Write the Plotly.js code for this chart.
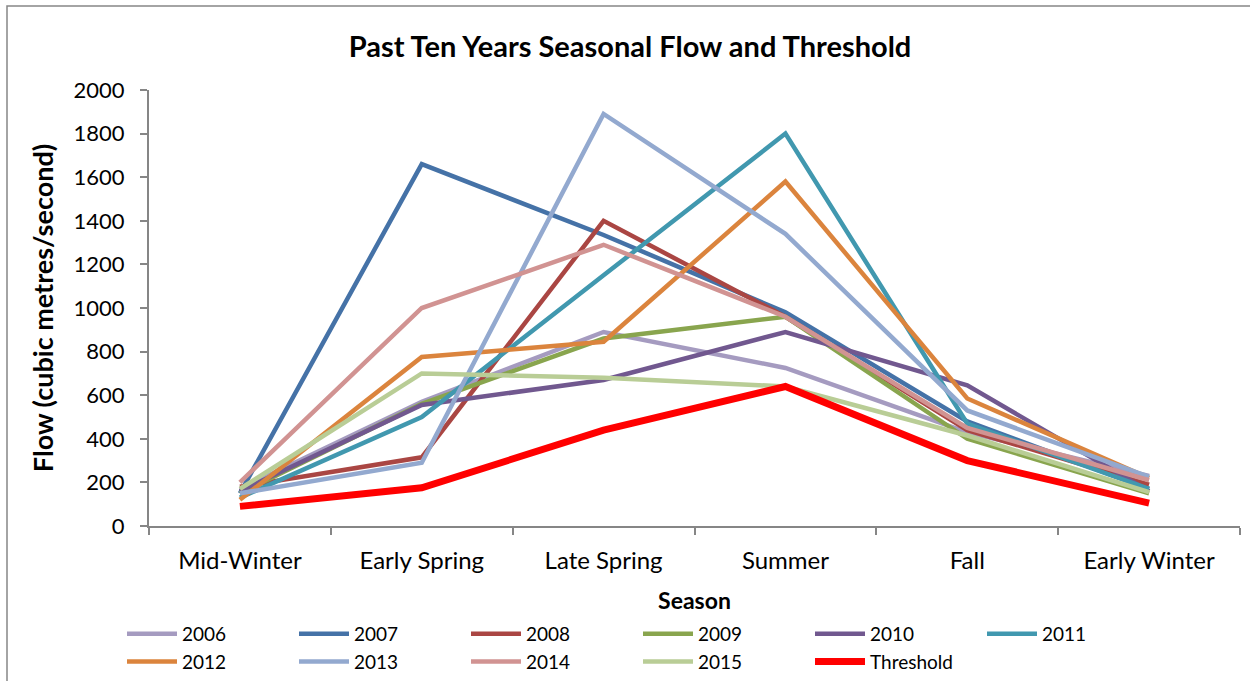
<!DOCTYPE html>
<html>
<head>
<meta charset="utf-8">
<script src="https://cdn.plot.ly/plotly-3.0.1.min.js"></script>
<style>
  html, body { margin: 0; padding: 0; background: #ffffff; }
  #chart { width: 1250px; height: 681px; }
</style>
</head>
<body>
<div id="chart"></div>
<script>
// Seasonal flow (cubic metres/second) for each year, plus the threshold line
const seasons = ["Mid-Winter", "Early Spring", "Late Spring", "Summer", "Fall", "Early Winter"];

const flow2006 = [170, 570, 890, 725, 430, 230];
const flow2007 = [150, 1660, 1335, 980, 480, 170];
const flow2008 = [180, 315, 1400, 960, 440, 190];
const flow2009 = [150, 560, 860, 960, 400, 150];
const flow2010 = [160, 555, 670, 890, 645, 160];
const flow2011 = [130, 500, 1150, 1800, 470, 170];
const flow2012 = [120, 775, 845, 1580, 585, 220];
const flow2013 = [150, 290, 1890, 1340, 530, 225];
const flow2014 = [200, 1000, 1290, 960, 450, 210];
const flow2015 = [170, 700, 680, 640, 415, 155];
const threshold = [90, 175, 440, 640, 300, 105];

const seriesNames = ["2006", "2007", "2008", "2009", "2010", "2011", "2012", "2013", "2014", "2015", "Threshold"];
const seriesValues = [flow2006, flow2007, flow2008, flow2009, flow2010, flow2011,
                      flow2012, flow2013, flow2014, flow2015, threshold];
const seriesColors = ["#A59BC0", "#4572A7", "#AA4643", "#89A54E", "#71588F", "#4198AF",
                      "#DB843D", "#93A9CF", "#D19392", "#B9CD96", "#FF0000"];

const FONT = "Lato, 'Open Sans', 'DejaVu Sans', sans-serif";

const traces = seriesNames.map((name, i) => ({
  type: "scatter",
  mode: "lines",
  name: name,
  x: seasons,
  y: seriesValues[i],
  line: { color: seriesColors[i], width: name === "Threshold" ? 7 : 4.5 },
  hoverinfo: "x+y+name"
}));

const layout = {
  width: 1250,
  height: 681,
  paper_bgcolor: "#ffffff",
  plot_bgcolor: "#ffffff",
  margin: { l: 149, r: 10, t: 90, b: 155 },
  font: { family: FONT, color: "#000000", size: 18 },
  title: {
    text: "<b>Past Ten Years Seasonal Flow and Threshold</b>",
    font: { family: FONT, size: 29, color: "#000000" },
    x: 630 / 1250, xref: "container",
    y: 1 - 47 / 681, yref: "container", yanchor: "middle"
  },
  xaxis: {
    type: "category",
    range: [-0.5, 5.5],
    showgrid: false,
    zeroline: false,
    showline: true,
    linecolor: "#868686",
    linewidth: 2,
    ticks: "outside",
    tickson: "boundaries",
    ticklen: 7,
    tickwidth: 2,
    tickcolor: "#868686",
    tickfont: { family: FONT, size: 24 },
    ticklabelstandoff: 12,
    title: { text: "<b>Season</b>", font: { family: FONT, size: 23 }, standoff: 20 }
  },
  yaxis: {
    range: [0, 2000],
    dtick: 200,
    showgrid: false,
    zeroline: false,
    showline: true,
    linecolor: "#868686",
    linewidth: 2,
    ticks: "outside",
    ticklen: 7,
    tickwidth: 2,
    tickcolor: "#868686",
    tickfont: { family: FONT, size: 22 },
    ticklabelstandoff: 11,
    title: { text: "<b>Flow (cubic metres/second)</b>", font: { family: FONT, size: 27 }, standoff: 12 }
  },
  showlegend: true,
  legend: {
    orientation: "h",
    xref: "container",
    yref: "container",
    x: 122 / 1250,
    xanchor: "left",
    y: 1 - 615 / 681,
    yanchor: "top",
    entrywidth: 107,
    entrywidthmode: "pixels",
    tracegroupgap: 0,
    itemwidth: 50,
    font: { family: FONT, size: 19 },
    traceorder: "normal"
  },
  shapes: [{
    type: "rect",
    xref: "paper", yref: "paper",
    x0: (7 - 149) / 1091, x1: 1.05,
    y0: -0.5, y1: (526 - 6) / 436,
    line: { color: "#868686", width: 1.5 },
    fillcolor: "rgba(0,0,0,0)",
    layer: "below"
  }]
};

Plotly.newPlot("chart", traces, layout, { displayModeBar: false, staticPlot: true });
</script>
</body>
</html>
